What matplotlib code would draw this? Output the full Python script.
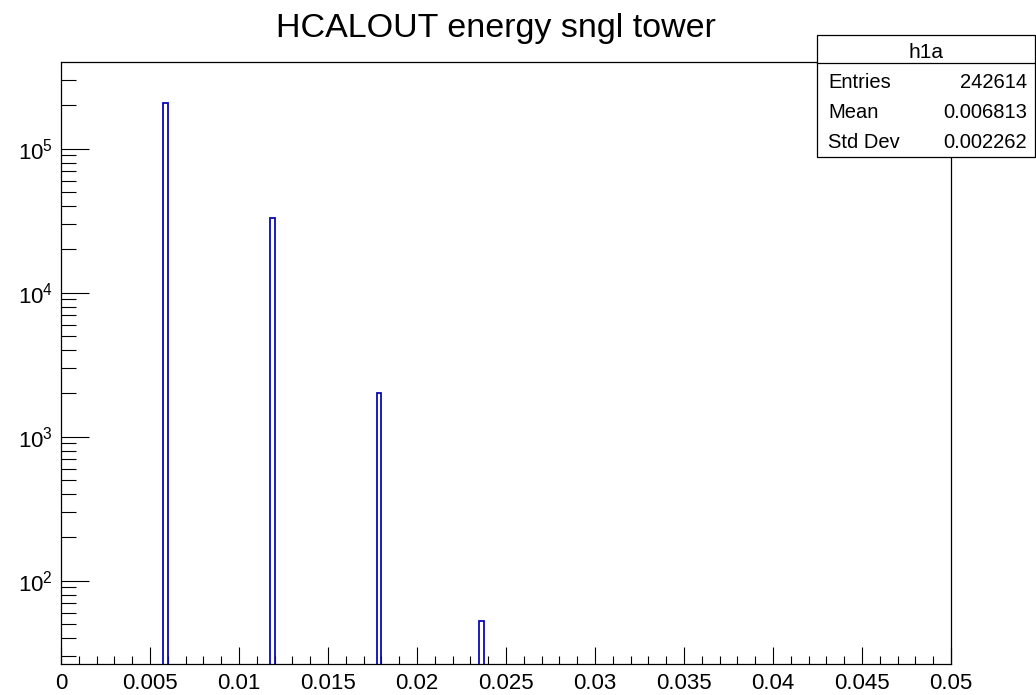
import numpy as np
import matplotlib
matplotlib.use("Agg")
import matplotlib.pyplot as plt
from matplotlib.ticker import MultipleLocator, LogLocator, FixedLocator, NullFormatter, FuncFormatter
from matplotlib.patches import Rectangle
from matplotlib.lines import Line2D

plt.rcParams['font.family'] = ['Liberation Sans', 'DejaVu Sans']
plt.rcParams['mathtext.fontset'] = 'custom'
plt.rcParams['mathtext.rm'] = 'Liberation Sans'
plt.rcParams['mathtext.it'] = 'Liberation Sans:italic'
plt.rcParams['mathtext.bf'] = 'Liberation Sans:bold'

# ---- data ----
title = "HCALOUT energy sngl tower"
hist_name = "h1a"
bin_width = 0.00025
bin_low_edges = [0.00575, 0.01175, 0.01775, 0.0235]
bin_counts = [207561, 33000, 2000, 53]
stat_labels = ["Entries", "Mean", "Std Dev"]
stat_values = ["242614", "0.006813", "0.002262"]
x_range = (0.0, 0.05)
y_range = (26.7, 3.97e5)
x_major_ticks = [0, 0.005, 0.01, 0.015, 0.02, 0.025, 0.03, 0.035, 0.04, 0.045, 0.05]
x_tick_labels = ["0", "0.005", "0.01", "0.015", "0.02", "0.025", "0.03", "0.035", "0.04", "0.045", "0.05"]

W, H = 1036, 695
fig = plt.figure(figsize=(W / 100, H / 100), dpi=100)
fig.patch.set_facecolor('white')

ax_l, ax_r, ax_t, ax_b = 61, 951, 62.3, 663.5
ax = fig.add_axes([ax_l / W, 1 - ax_b / H, (ax_r - ax_l) / W, (ax_b - ax_t) / H])

line_color = '#0a0ab4'
ax.bar(bin_low_edges, bin_counts, width=bin_width, align='edge', fill=False,
       edgecolor=line_color, linewidth=1.3, zorder=3)

ax.set_yscale('log')
ax.set_xlim(*x_range)
ax.set_ylim(*y_range)

ax.xaxis.set_major_locator(FixedLocator(x_major_ticks))
ax.set_xticklabels(x_tick_labels)
ax.xaxis.set_minor_locator(MultipleLocator(0.001))
ax.yaxis.set_major_locator(LogLocator(base=10, numticks=20))
ax.yaxis.set_minor_locator(LogLocator(base=10, subs=np.arange(2, 10), numticks=20))
ax.yaxis.set_minor_formatter(NullFormatter())
ax.yaxis.set_major_formatter(FuncFormatter(lambda v, p: r'$\mathregular{10^{%d}}$' % int(round(np.log10(v)))))

ax.tick_params(axis='x', which='major', direction='in', length=12.5, width=0.8,
               top=False, bottom=True, labelsize=16, pad=7)
ax.tick_params(axis='x', which='minor', direction='in', length=6, width=0.8,
               top=False, bottom=True)
ax.tick_params(axis='y', which='major', direction='in', length=20, width=0.8,
               right=False, left=True, labelsize=16, pad=6)
ax.tick_params(axis='y', which='minor', direction='in', length=10.8, width=0.8,
               right=False, left=True)
for s in ax.spines.values():
    s.set_linewidth(0.9)
    s.set_color('black')

# title
fig.text(495.5 / W, 1 - 36.7 / H, title, ha='center', va='baseline', fontsize=24.5)

# stats box
bx0, bx1, by0, by1 = 817.3, 1035.0, 35.0, 156.5
box = Rectangle((bx0 / W, 1 - by1 / H), (bx1 - bx0) / W, (by1 - by0) / H,
                transform=fig.transFigure, facecolor='white', edgecolor='black',
                linewidth=0.9, zorder=10)
fig.add_artist(box)
sep = Line2D([bx0 / W, bx1 / W], [1 - 63.3 / H, 1 - 63.3 / H], transform=fig.transFigure,
             color='black', linewidth=0.9, zorder=11)
fig.add_artist(sep)
fig.text((bx0 + bx1) / 2 / W, 1 - 58.3 / H, hist_name, ha='center', va='baseline',
         fontsize=15, zorder=12)
baselines = [88.3, 118.3, 148.3]
for lab, val, yb in zip(stat_labels, stat_values, baselines):
    fig.text(828 / W, 1 - yb / H, lab, ha='left', va='baseline', fontsize=14.5, zorder=12)
    fig.text(1026.7 / W, 1 - yb / H, val, ha='right', va='baseline', fontsize=14.5, zorder=12)

fig.savefig('out.png', dpi=100)
